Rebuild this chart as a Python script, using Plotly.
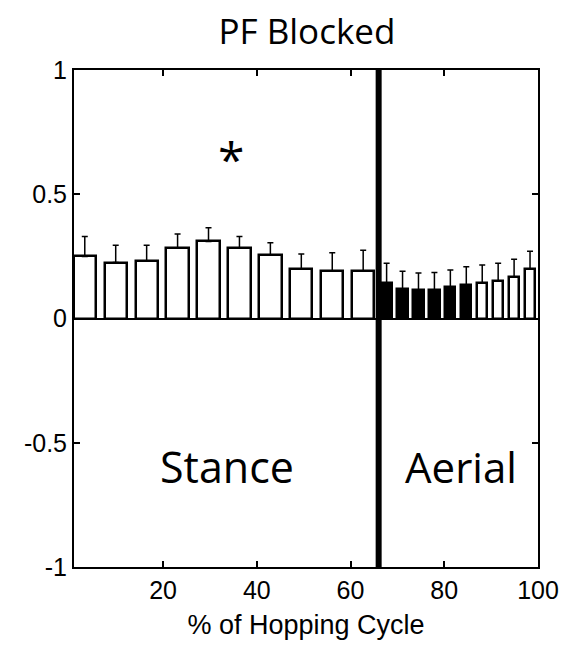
import plotly.graph_objects as go

# Data
stance_vals = [0.25, 0.225, 0.23, 0.285, 0.31, 0.285, 0.255, 0.20, 0.19, 0.19]
stance_err = [0.08, 0.07, 0.065, 0.055, 0.055, 0.045, 0.05, 0.06, 0.075, 0.085]
aerial_vals = [0.142, 0.12, 0.114, 0.114, 0.125, 0.133, 0.144, 0.152, 0.167, 0.199]
aerial_err = [0.08, 0.07, 0.069, 0.071, 0.07, 0.075, 0.071, 0.07, 0.071, 0.072]
aerial_fill = ["black"] * 6 + ["white"] * 4
phase_boundary = 66
cycle_end = 100
x_ticks = [20, 40, 60, 80, 100]
y_ticks = [-1, -0.5, 0, 0.5, 1]
y_tick_text = ["-1", "-0.5", "0", "0.5", "1"]

n_s = len(stance_vals)
n_a = len(aerial_vals)
ws = phase_boundary / n_s
wa = (cycle_end - phase_boundary) / n_a
stance_x = [(i + 0.5) * ws for i in range(n_s)]
aerial_x = [phase_boundary + (i + 0.5) * wa for i in range(n_a)]

fig = go.Figure()
fig.add_trace(go.Bar(
    x=stance_x, y=stance_vals, width=[ws * 0.72] * n_s,
    marker=dict(color="white", line=dict(color="black", width=2.5)),
    error_y=dict(type="data", symmetric=False, array=stance_err,
                 arrayminus=[0] * n_s, color="black", thickness=1.5, width=3),
    showlegend=False,
))
fig.add_trace(go.Bar(
    x=aerial_x, y=aerial_vals, width=[wa * 0.64] * n_a,
    marker=dict(color=aerial_fill, line=dict(color="black", width=2.5)),
    error_y=dict(type="data", symmetric=False, array=aerial_err,
                 arrayminus=[0] * n_a, color="black", thickness=1.5, width=3),
    showlegend=False,
))

fig.add_shape(type="line", x0=phase_boundary, x1=phase_boundary, y0=-1, y1=1,
              xref="x", yref="y", line=dict(color="black", width=6))

fig.add_annotation(x=34.4, y=0.645, text="*", showarrow=False,
                   font=dict(family="Open Sans", size=48, color="black"))
fig.add_annotation(x=33.6, y=-0.595, text="Stance", showarrow=False,
                   font=dict(family="Open Sans", size=43, color="black"))
fig.add_annotation(x=83.6, y=-0.595, text="Aerial", showarrow=False,
                   font=dict(family="Open Sans", size=42, color="black"))

fig.update_layout(
    width=563, height=639,
    margin=dict(l=66, r=28, t=62, b=80),
    paper_bgcolor="white", plot_bgcolor="white",
    bargap=0,
    title=dict(text="PF Blocked", x=0.531, xanchor="center", y=0.963, yanchor="middle",
               font=dict(family="Open Sans", size=35, color="black")),
    xaxis=dict(range=[1, cycle_end], tickvals=x_ticks, ticks="inside", ticklen=6,
               tickwidth=1.5, tickcolor="black", showline=True, linecolor="black",
               linewidth=2, mirror="ticks", showgrid=False, zeroline=False,
               tickfont=dict(family="Liberation Sans", size=25, color="black"),
               title=dict(text="% of Hopping Cycle", standoff=12,
                          font=dict(family="Liberation Sans", size=27, color="black"))),
    yaxis=dict(range=[-1, 1], tickvals=y_ticks, ticktext=y_tick_text, ticks="inside",
               ticklen=6, tickwidth=1.5, tickcolor="black", showline=True,
               linecolor="black", linewidth=2, mirror="ticks", showgrid=False,
               zeroline=True, zerolinecolor="black", zerolinewidth=2,
               tickfont=dict(family="Liberation Sans", size=25, color="black")),
)

fig.write_html("out.html")
